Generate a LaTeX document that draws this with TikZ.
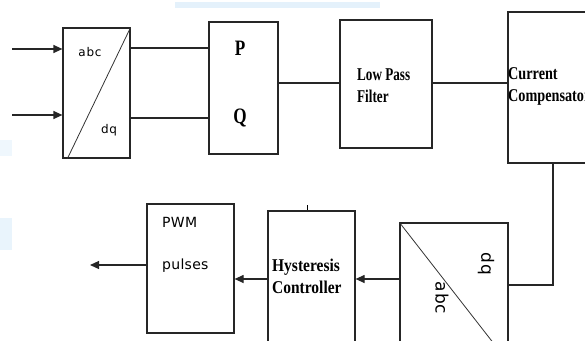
\documentclass[tikz,border=0pt]{standalone}
\usepackage{fontspec}
\usetikzlibrary{arrows.meta}
\newfontfamily\lblsans[LetterSpace=6]{DejaVu Sans}
\newfontfamily\lblsanst[LetterSpace=2]{DejaVu Sans}
\newfontfamily\serifA[FakeStretch=0.73]{Liberation Serif}
\newfontfamily\serifB[FakeStretch=0.79]{Liberation Serif}
\newfontfamily\serifC[FakeStretch=0.86]{Liberation Serif}
\newfontfamily\serifP[FakeStretch=0.78]{Liberation Serif}
\definecolor{wash}{RGB}{228,241,251}
\tikzset{
  box/.style={draw=black!85, line width=1.2pt, rectangle, inner sep=0pt},
  wire/.style={draw=black!85, line width=1.2pt},
  arr/.style={wire, -{Triangle[length=9pt,width=8pt]}},
  sanslbl/.style={font=\lblsans\fontsize{12}{14}\selectfont, inner sep=0pt},
  seriflbl/.style={inner sep=0pt, align=left},
}
\begin{document}
\begin{tikzpicture}[x=1pt,y=-1pt]
\useasboundingbox (0,0) rectangle (585,340);
% faint background washes
\fill[wash] (175,2) rectangle (380,8);
\fill[wash, opacity=0.6] (0,140) rectangle (12,156);
\fill[wash, opacity=0.8] (0,218) rectangle (12,250);

% boxes
\node[box, minimum width=67pt, minimum height=130pt] (t1) at (96.5,93) {};
\node[box, minimum width=69pt, minimum height=132pt] (pq) at (243.5,88) {};
\node[box, minimum width=92pt, minimum height=128pt] (lpf) at (386,84) {};
\node[box, minimum width=112pt, minimum height=151pt] (cc) at (564,87.5) {};
\node[box, minimum width=108pt, minimum height=137pt] (t2) at (454,291.5) {};
\node[box, minimum width=87pt, minimum height=149pt] (hc) at (311.5,285.5) {};
\node[box, minimum width=87pt, minimum height=129pt] (pwm) at (190.5,268.5) {};

% diagonals
\draw[line width=0.8pt, black!80] ([xshift=5pt]t1.south west) -- (t1.north east);
\draw[line width=0.8pt, black!80] (t2.north west) -- ([yshift=-2pt]t2.south east);

% labels
\node[sanslbl] at (90,52) {abc};
\node[sanslbl] at (109,130) {dq};
\node[font=\serifP\bfseries\fontsize{22}{24}\selectfont, inner sep=0pt] at (240,48) {P};
\node[font=\serifP\bfseries\fontsize{22}{24}\selectfont, inner sep=0pt] at (240,118) {Q};
\node[seriflbl, font=\serifA\bfseries\fontsize{18}{22}\selectfont, anchor=west] at (357,86) {Low Pass\\Filter};
\node[seriflbl, font=\serifB\bfseries\fontsize{18}{22}\selectfont, anchor=west] at (508,86) {Current\\Compensator};
\node[seriflbl, font=\serifC\bfseries\fontsize{18}{22}\selectfont, anchor=west] at (272,276) {Hysteresis\\Controller};
\node[font=\lblsanst\fontsize{14}{16}\selectfont, inner sep=0pt, anchor=west] at (162,222) {PWM};
\node[font=\lblsanst\fontsize{14}{16}\selectfont, inner sep=0pt, anchor=west] at (162,266) {pulses};
\node[font=\lblsans\fontsize{17}{18}\selectfont, inner sep=0pt, rotate=-90] at (486,264) {dq};
\node[font=\lblsans\fontsize{17}{18}\selectfont, inner sep=0pt, rotate=-90] at (442,298) {abc};

% coordinates
\coordinate (inA) at (12,49);
\coordinate (inB) at (12,115);
\coordinate (yP) at (0,48);
\coordinate (yQ) at (0,118);
\coordinate (yL) at (0,83);
\coordinate (drop) at (553,0);
\coordinate (yR) at (0,285);
\coordinate (yH) at (0,279);
\coordinate (outp) at (90,265);
\coordinate (tick) at (307,205);

% connectors
\draw[arr] (inA) -- (inA -| t1.west);
\draw[arr] (inB) -- (inB -| t1.west);
\draw[wire] (t1.east |- yP) -- (pq.west |- yP);
\draw[wire] (t1.east |- yQ) -- (pq.west |- yQ);
\draw[wire] (pq.east |- yL) -- (lpf.west |- yL);
\draw[wire] (lpf.east |- yL) -- (cc.west |- yL);
\draw[wire] (cc.south -| drop) |- (t2.east |- yR);
\draw[arr] (t2.west |- yH) -- (hc.east |- yH);
\draw[arr] (hc.west |- yH) -- (pwm.east |- yH);
\draw[arr] (pwm.west |- outp) -- (outp);
\draw[line width=0.8pt] (tick) -- (tick |- hc.north);
\end{tikzpicture}
\end{document}
